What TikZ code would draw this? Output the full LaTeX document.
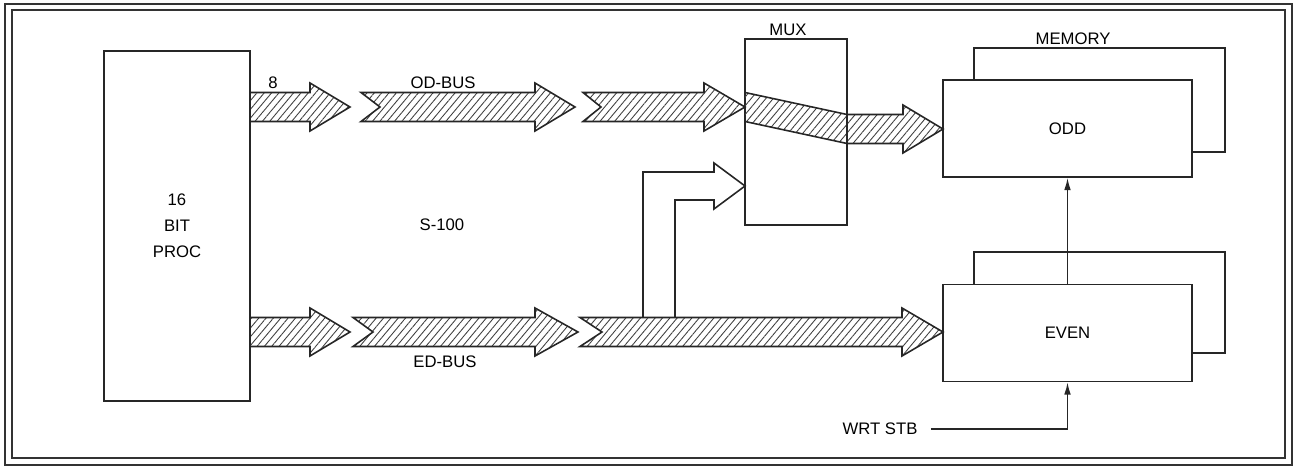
\documentclass[tikz,border=0pt]{standalone}
\usepackage{fontspec}
\setmainfont{Liberation Sans}
\usetikzlibrary{arrows.meta, patterns.meta, calc}

% hatched bus arrow: tail x, notch depth, head base x, tip x, axis y
\newcommand{\busarrow}[5]{%
  \draw[bus] (#1,{#5-14.5}) -- (#3,{#5-14.5}) -- (#3,{#5-24}) -- (#4,#5)
    -- (#3,{#5+24}) -- (#3,{#5+14.5}) -- (#1,{#5+14.5}) -- ({#1+#2},#5) -- cycle;}

\begin{document}
\begin{tikzpicture}[
    x=0.02cm, y=-0.02cm,
    blk/.style={rectangle, draw=black!85, line width=1pt, inner sep=0pt, align=center, font=\fontsize{9.5}{14.7}\selectfont},
    lbl/.style={inner sep=0pt, font=\fontsize{9.5}{11}\selectfont},
    hatch/.style={pattern={Lines[angle=50, distance=3.2pt, line width=0.5pt]}, pattern color=black!75},
    bus/.style={draw=black!85, line width=0.9pt, hatch},
    sig/.style={-{Latex[length=7pt, width=3.8pt]}, line width=0.8pt, draw=black!85}
]
\useasboundingbox (0,0) rectangle (1299,469);

% double frame
\draw[line width=1pt, black!80] (5,4) rectangle (1292,465);
\draw[line width=1pt, black!80] (12,10) rectangle (1285,458);

% blocks
\node[blk, minimum width=2.92cm, minimum height=7cm] (proc) at (177,226) {16\\BIT\\PROC};
\node[blk, minimum width=2.04cm, minimum height=3.72cm] (mux) at (796,132) {};
\node[blk, minimum width=4.98cm, minimum height=1.94cm] (odd) at (1067.5,128.5) {ODD};
\node[blk, minimum width=4.98cm, minimum height=1.94cm] (even) at (1067.5,333) {EVEN};

% second bank behind each memory block
\draw[line width=1pt, black!85] ($(odd.north west)+(32,0)$) |- ($(odd.north east)+(32,-31)$) |- ($(odd.south east)+(0,-26)$);
\draw[line width=1pt, black!85] ($(even.north west)+(32,0)$) |- ($(even.north east)+(32,-32)$) |- ($(even.south east)+(0,-29)$);

% labels
\node[lbl] (muxlbl) at (788,30) {MUX};
\node[lbl] (memlbl) at (1073,39) {MEMORY};
\node[lbl] (s100) at (442,225) {S-100};
\node[lbl] (odlbl) at (443,83) {OD-BUS};
\node[lbl] (edlbl) at (445,362) {ED-BUS};
\node[lbl] (width8) at (273,83) {8};
\node[lbl] (wrt) at (880,429) {WRT STB};

% OD bus
\busarrow{250}{0}{310}{350}{107}
\busarrow{361}{19}{535}{575}{107}
\busarrow{583}{18}{704}{745}{107}
\fill[hatch] (745,92.5) -- (847,114.5) -- (847,143.5) -- (745,121.5) -- cycle;
\draw[line width=0.9pt, black!85] (745,92.5) -- (847,114.5);
\draw[line width=0.9pt, black!85] (745,121.5) -- (847,143.5);
\busarrow{847}{0}{903}{943}{129}

% ED bus
\busarrow{250}{0}{310}{350}{332}
\busarrow{353}{20}{535}{578}{332}
\busarrow{580}{22}{902}{943}{332}

% ED lines into the mux
\draw[line width=0.9pt, black!85] (643,317.5) -- (643,172) -- (714,172) -- (714,163) -- (745,186)
  -- (714,209) -- (714,200) -- (675,200) -- (675,317.5);

% control lines
\draw[sig] (even.north) -- (odd.south);
\draw[sig] ([xshift=0.26cm]wrt.east) -| (even.south);

\end{tikzpicture}
\end{document}
